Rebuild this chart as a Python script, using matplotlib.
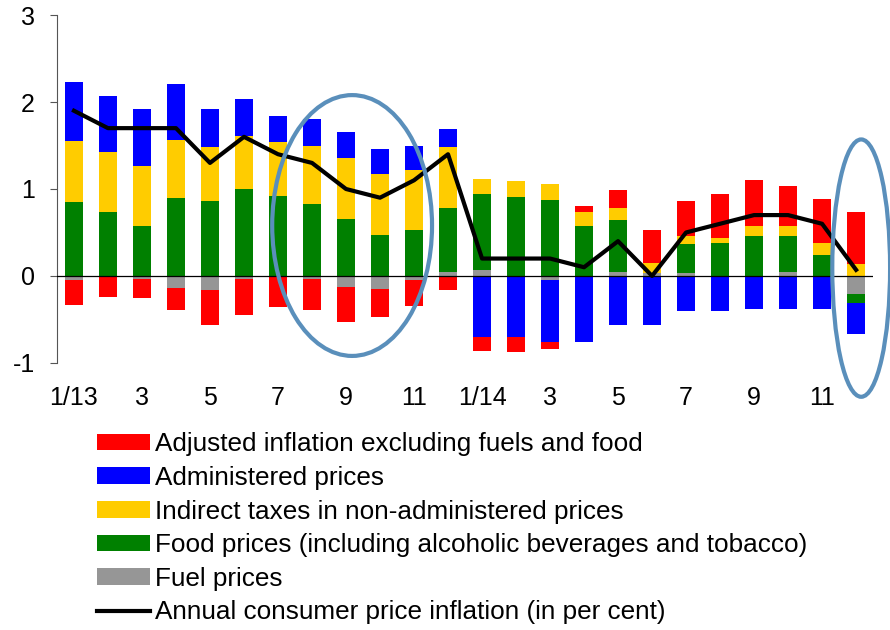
import matplotlib
matplotlib.use('Agg')
import matplotlib.pyplot as plt
import numpy as np
from matplotlib.patches import Ellipse

plt.rcParams['font.family'] = ['Liberation Sans', 'DejaVu Sans']

# months 1/2013 .. 12/2014
tick_labels = ['1/13', '3', '5', '7', '9', '11', '1/14', '3', '5', '7', '9', '11']

fuel = [-0.05, -0.01, -0.03, -0.14, -0.16, -0.03, -0.01, -0.04, -0.13, -0.15, -0.05, 0.04,
        0.07, 0.00, -0.05, 0.00, 0.05, 0.03, 0.03, 0.00, 0.00, 0.04, 0.00, -0.21]
food = [0.855, 0.74, 0.57, 0.90, 0.865, 1.00, 0.92, 0.83, 0.66, 0.47, 0.53, 0.74,
        0.87, 0.91, 0.875, 0.58, 0.595, 0.00, 0.34, 0.38, 0.46, 0.415, 0.24, -0.10]
taxes = [0.70, 0.69, 0.70, 0.665, 0.615, 0.61, 0.62, 0.67, 0.70, 0.70, 0.69, 0.70,
         0.17, 0.18, 0.18, 0.155, 0.14, 0.115, 0.09, 0.06, 0.12, 0.125, 0.135, 0.135]
admin = [0.68, 0.64, 0.65, 0.645, 0.435, 0.425, 0.295, 0.30, 0.30, 0.29, 0.27, 0.21,
         -0.705, -0.705, -0.71, -0.755, -0.57, -0.565, -0.40, -0.40, -0.385, -0.375, -0.375, -0.36]
adjusted = [-0.29, -0.23, -0.22, -0.25, -0.41, -0.42, -0.35, -0.35, -0.40, -0.32, -0.30, -0.165,
            -0.157, -0.17, -0.085, 0.065, 0.205, 0.38, 0.40, 0.50, 0.525, 0.46, 0.51, 0.60]
cpi = [1.9, 1.7, 1.7, 1.7, 1.3, 1.6, 1.4, 1.3, 1.0, 0.9, 1.1, 1.4,
       0.2, 0.2, 0.2, 0.1, 0.4, 0.0, 0.5, 0.6, 0.7, 0.7, 0.6, 0.07]

series = [
    (fuel, '#969696', 'Fuel prices'),
    (food, '#008000', 'Food prices (including alcoholic beverages and tobacco)'),
    (taxes, '#FFCC00', 'Indirect taxes in non-administered prices'),
    (admin, '#0000FF', 'Administered prices'),
    (adjusted, '#FF0000', 'Adjusted inflation excluding fuels and food'),
]

fig = plt.figure(figsize=(8.9, 6.3), dpi=100)
ax = fig.add_axes([0.064, 0.424, 0.917, 0.552])

x = np.arange(len(cpi))
pos_base = np.zeros(len(x))
neg_base = np.zeros(len(x))
handles = {}
for vals, col, lab in series:
    v = np.array(vals)
    base = np.where(v >= 0, pos_base, neg_base)
    b = ax.bar(x, v, 0.54, bottom=base, color=col, label=lab, zorder=2)
    handles[lab] = b
    pos_base += np.where(v >= 0, v, 0)
    neg_base += np.where(v < 0, v, 0)

ax.axhline(0, color='black', lw=0.9, zorder=3)
line, = ax.plot(x, cpi, color='black', lw=3, zorder=4,
                label='Annual consumer price inflation (in per cent)')

# highlight ellipses
ax.add_patch(Ellipse((8.18, 0.58), 4.7, 3.0, fill=False, ec='#5a8fbb', lw=3,
                     clip_on=False, zorder=5))
ax.add_patch(Ellipse((23.15, 0.09), 1.7, 2.96, fill=False, ec='#5a8fbb', lw=3,
                     clip_on=False, zorder=5))

ax.set_xlim(-0.5, 23.5)
ax.set_ylim(-1, 3)
ax.set_yticks([-1, 0, 1, 2, 3])
ax.set_yticklabels(['-1', '0', '1', '2', '3'])
ax.set_xticks(x[::2])
ax.set_xticklabels(tick_labels)
ax.tick_params(axis='x', length=0, pad=17, labelsize=18)
ax.tick_params(axis='y', length=5, direction='out', pad=11, labelsize=18, color='#555555')
for s in ['top', 'right', 'bottom']:
    ax.spines[s].set_visible(False)
ax.spines['left'].set_color('#555555')

order = ['Adjusted inflation excluding fuels and food', 'Administered prices',
         'Indirect taxes in non-administered prices',
         'Food prices (including alcoholic beverages and tobacco)', 'Fuel prices']
h = [handles[k] for k in order] + [line]
l = order + [line.get_label()]
fig.legend(h, l, loc='upper left', bbox_to_anchor=(0.109, 0.314), frameon=False,
           fontsize=18.8, handlelength=2.03, handleheight=0.61, handletextpad=0.2,
           labelspacing=0.37, borderaxespad=0, borderpad=0)

fig.savefig('out.png', dpi=100)
